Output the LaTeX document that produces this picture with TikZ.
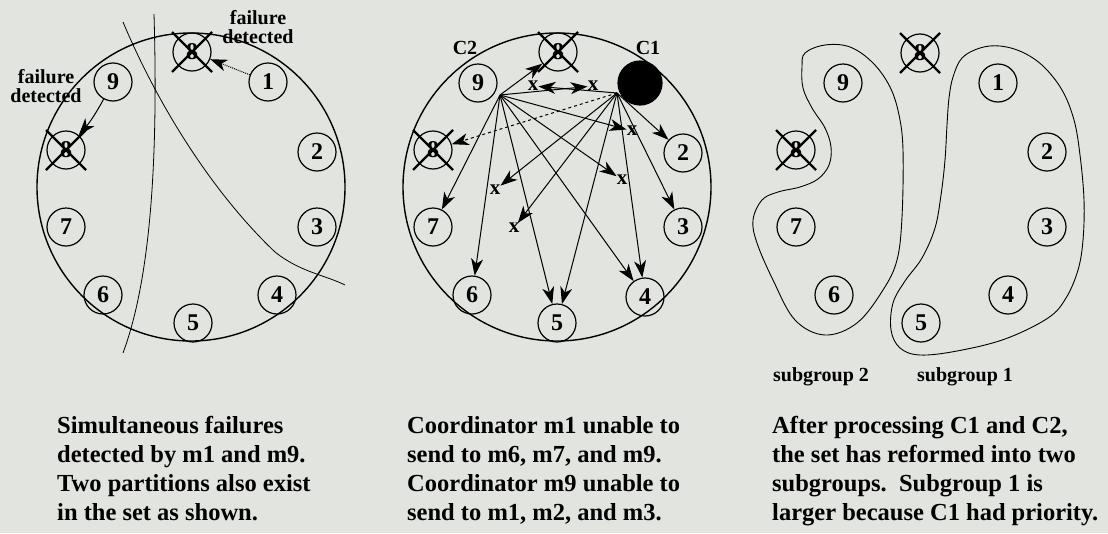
\documentclass[tikz,border=0pt]{standalone}
\usepackage{fontspec}
\setmainfont{Liberation Serif}
\usetikzlibrary{arrows.meta}
\definecolor{bg}{RGB}{226,228,224}
\begin{document}
\begin{tikzpicture}[x=1pt,y=-1pt,
  mem/.style={circle,draw,line width=1.2pt,minimum size=38pt,inner sep=0pt,font=\bfseries\fontsize{24}{24}\selectfont},
  crossln/.style={line width=2.4pt},
  bigring/.style={line width=1.4pt},
  msg/.style={line width=1pt,-{Stealth[length=17pt,width=12pt,inset=5pt]}},
  xmark/.style={font=\bfseries\fontsize{21}{21}\selectfont,inner sep=0pt},
  lbl/.style={font=\bfseries\fontsize{20}{19}\selectfont,inner sep=0pt,align=center},
  captxt/.style={font=\bfseries\fontsize{24.5}{29}\selectfont,align=left,anchor=north west,inner sep=0pt},
  part/.style={line width=0.8pt},
  blob/.style={line width=0.9pt}
]
\fill[bg] (0,0) rectangle (1108,533);
\useasboundingbox (0,0) rectangle (1108,533);

% ---------- Panel 1 ----------
\draw[bigring] (191,187) circle[radius=154];
\node[mem] (a0) at (192,52) {8};
\node[mem] (a1) at (268,82) {1};
\node[mem] (a2) at (317,152) {2};
\node[mem] (a3) at (317,227) {3};
\node[mem] (a4) at (277,295) {4};
\node[mem] (a5) at (193,323) {5};
\node[mem] (a6) at (103,295) {6};
\node[mem] (a7) at (66,227) {7};
\node[mem] (a8) at (66,150) {8};
\node[mem] (a9) at (113,82) {9};
\foreach \n in {a0,a8}{
  \draw[crossln] ([shift={(-20,-20)}]\n.center) -- ([shift={(20,20)}]\n.center);
  \draw[crossln] ([shift={(20,-20)}]\n.center) -- ([shift={(-20,20)}]\n.center);
}
\draw[msg,densely dotted] (a1) -- (a0);
\draw[msg] (a9) to[bend left=6] (a8);
\node[lbl] (fd1) at (258,27) {failure\\detected};
\node[lbl] (fd2) at (46,86) {failure\\detected};
\draw[part] (154,14) .. controls (158,150) and (152,275) .. (123,353);
\draw[part] (123,22) .. controls (160,110) and (215,195) .. (275,252)
            .. controls (300,272) and (325,275) .. (345,285);

% ---------- Panel 2 ----------
\draw[bigring] (557,187) circle[radius=154];
\node[mem] (b0) at (558,52) {8};
\node[mem,fill=black,minimum size=44pt] (b1) at (640,83) {};
\node[mem] (b2) at (683,153) {2};
\node[mem] (b3) at (683,227) {3};
\node[mem] (b4) at (645,297) {4};
\node[mem] (b5) at (557,323) {5};
\node[mem] (b6) at (472,295) {6};
\node[mem] (b7) at (433,227) {7};
\node[mem] (b8) at (433,150) {8};
\node[mem] (b9) at (478,83) {9};
\foreach \n in {b0,b8}{
  \draw[crossln] ([shift={(-20,-20)}]\n.center) -- ([shift={(20,20)}]\n.center);
  \draw[crossln] ([shift={(20,-20)}]\n.center) -- ([shift={(-20,20)}]\n.center);
}
\node[lbl] (c2lab) at (465,48) {C2};
\node[lbl] (c1lab) at (648,48) {C1};
\coordinate (s9) at (500,95);
\coordinate (s1) at (617,93);
\node[xmark] (x91) at (593,86) {x};
\node[xmark] (x19) at (533,86) {x};
\node[xmark] (x92) at (632,131) {x};
\node[xmark] (x93) at (622,180) {x};
\node[xmark] (x16) at (514,228) {x};
\node[xmark] (x17) at (495,190) {x};
\foreach \t in {b0,x91,b7,b6,b5,b4,x92,x93}{\draw[msg] (s9) -- (\t);}
\foreach \t in {b2,b3,b4,b5,x16,x17,x19}{\draw[msg] (s1) -- (\t);}
\draw[msg,dashed] (s1) -- (b8);

% ---------- Panel 3 ----------
\node[mem] (c0) at (920,53) {8};
\node[mem] (c1) at (998,83) {1};
\node[mem] (c2) at (1047,152) {2};
\node[mem] (c3) at (1047,227) {3};
\node[mem] (c4) at (1008,295) {4};
\node[mem] (c5) at (921,323) {5};
\node[mem] (c6) at (834,295) {6};
\node[mem] (c7) at (796,227) {7};
\node[mem] (c8) at (796,150) {8};
\node[mem] (c9) at (843,83) {9};
\foreach \n in {c0,c8}{
  \draw[crossln] ([shift={(-20,-20)}]\n.center) -- ([shift={(20,20)}]\n.center);
  \draw[crossln] ([shift={(20,-20)}]\n.center) -- ([shift={(-20,20)}]\n.center);
}
\draw[blob] plot[smooth cycle,tension=0.6] coordinates {
  (805,53) (825,45) (850,47) (873,63) (890,87) (899,115) (903,150)
  (902,217) (897,260) (883,290) (857,323) (825,335) (795,320)
  (773,280) (757,243) (753,220) (762,200) (778,192) (800,187)
  (818,179) (829,165) (831,147) (825,128) (812,108) (803,88) (802,67)};
\draw[blob] plot[smooth cycle,tension=0.6] coordinates {
  (953,77) (962,58) (980,48) (1000,46) (1022,52) (1043,66) (1062,90)
  (1074,120) (1080,155) (1084,200) (1083,240) (1078,270) (1066,298)
  (1048,318) (1005,339) (957,351) (920,355) (900,348) (891,330)
  (893,303) (905,281) (922,258) (935,228) (941,195) (945,160)
  (947,125) (949,98)};
\node[lbl] (sg2) at (821,377) {subgroup 2};
\node[lbl] (sg1) at (965,377) {subgroup 1};

% ---------- Captions ----------
\node[captxt] (t1) at (57,416) {Simultaneous failures\\detected by m1 and m9.\\Two partitions also exist\\in the set as shown.};
\node[captxt] (t2) at (407,416) {Coordinator m1 unable to\\send to m6, m7, and m9.\\Coordinator m9 unable to\\send to m1, m2, and m3.};
\node[captxt] (t3) at (772,416) {After processing C1 and C2,\\the set has reformed into two\\subgroups.\ \ Subgroup 1 is\\larger because C1 had priority.};
\end{tikzpicture}
\end{document}
